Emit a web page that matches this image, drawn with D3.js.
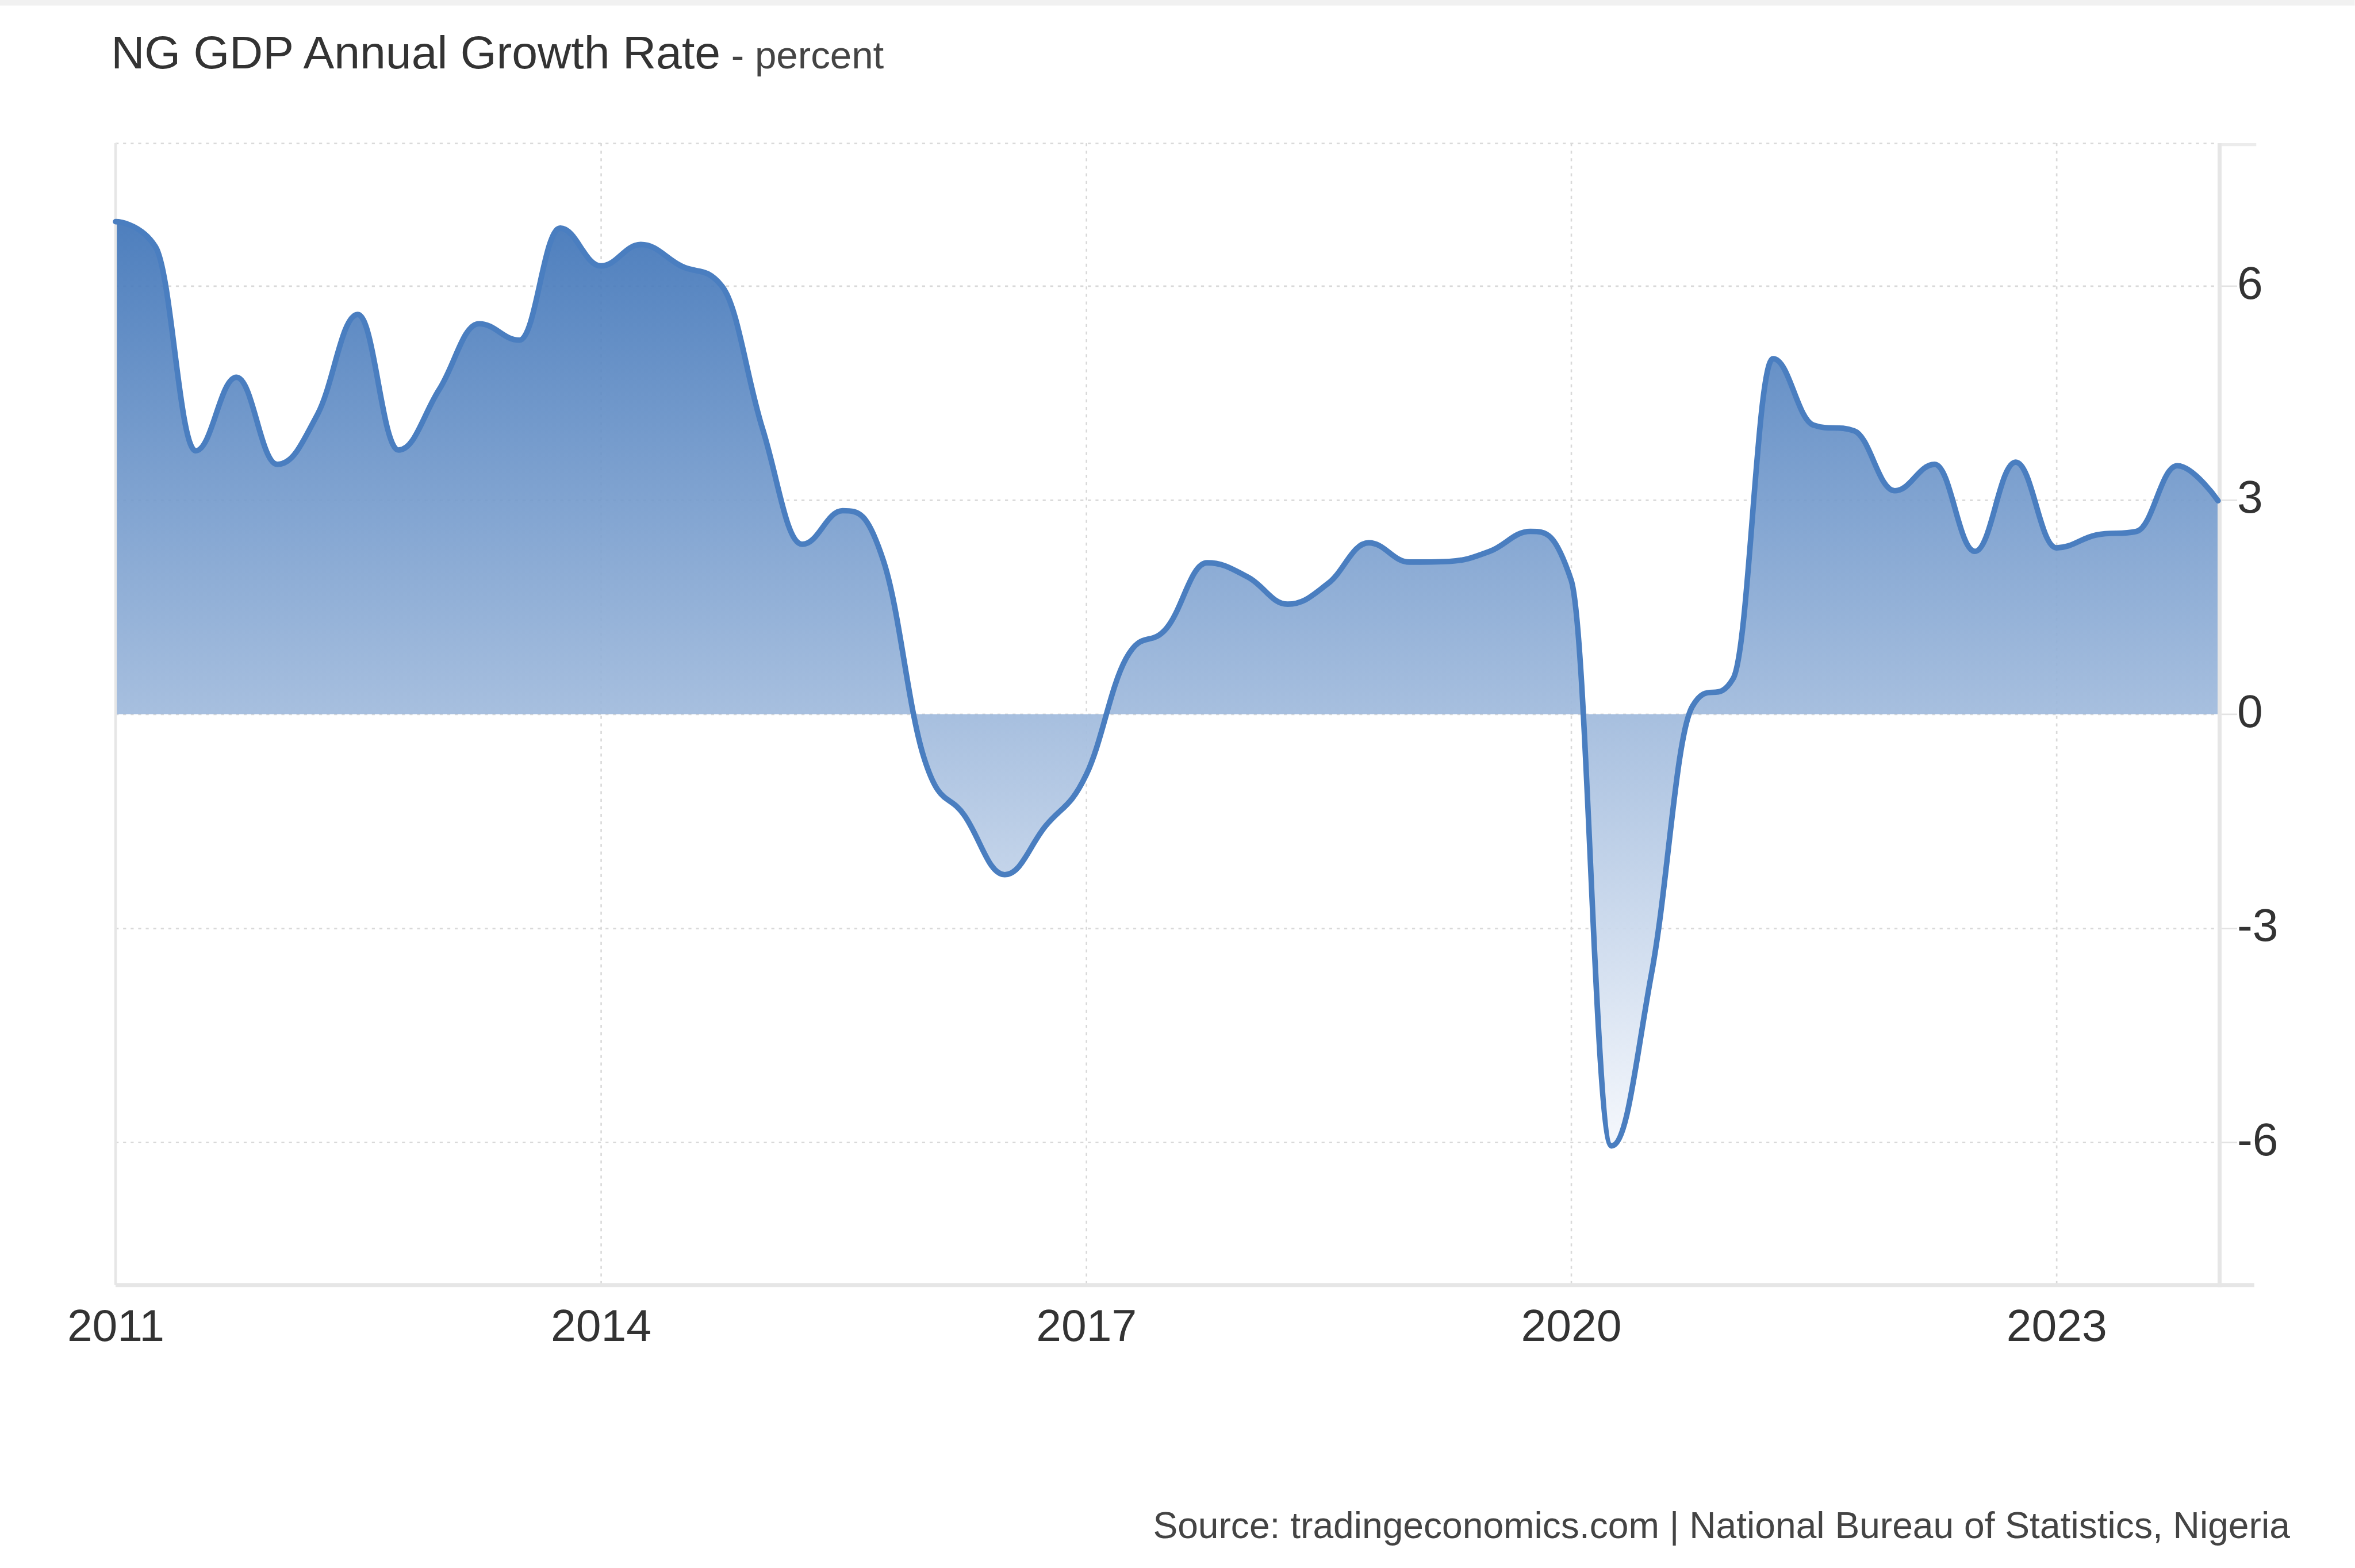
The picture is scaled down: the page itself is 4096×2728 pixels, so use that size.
<!DOCTYPE html>
<html>
<head>
<meta charset="utf-8">
<script src="https://cdn.jsdelivr.net/npm/d3@7"></script>
<style>
  html, body { margin: 0; padding: 0; background: #ffffff; }
  svg { display: block; }
  text { font-family: "Liberation Sans", Arial, Helvetica, sans-serif; }
</style>
</head>
<body>
<svg id="chart" width="4096" height="2728"></svg>
<script>
// Quarterly observations (start of each quarter)
const quarterStarts = [
  "2011-01", "2011-04", "2011-07", "2011-10",
  "2012-01", "2012-04", "2012-07", "2012-10",
  "2013-01", "2013-04", "2013-07", "2013-10",
  "2014-01", "2014-04", "2014-07", "2014-10",
  "2015-01", "2015-04", "2015-07", "2015-10",
  "2016-01", "2016-04", "2016-07", "2016-10",
  "2017-01", "2017-04", "2017-07", "2017-10",
  "2018-01", "2018-04", "2018-07", "2018-10",
  "2019-01", "2019-04", "2019-07", "2019-10",
  "2020-01", "2020-04", "2020-07", "2020-10",
  "2021-01", "2021-04", "2021-07", "2021-10",
  "2022-01", "2022-04", "2022-07", "2022-10",
  "2023-01", "2023-04", "2023-07", "2023-10",
  "2024-01"
];

// GDP annual growth rate, percent
const growth = [
  6.90, 6.55, 3.69, 4.72,
  3.50, 4.20, 5.60, 3.70,
  4.55, 5.47, 5.24, 6.81,
  6.28, 6.58, 6.28, 6.00,
  4.00, 2.38, 2.85, 2.15,
  -0.62, -1.42, -2.25, -1.57,
  -0.85, 0.78, 1.20, 2.12,
  1.92, 1.54, 1.83, 2.40,
  2.13, 2.14, 2.28, 2.56,
  1.88, -6.05, -3.62, 0.11,
  0.50, 4.98, 4.05, 3.97,
  3.13, 3.50, 2.28, 3.53,
  2.33, 2.51, 2.56, 3.48,
  2.99
];

const yTickValues = [-6, -3, 0, 3, 6];
const yearTickLabels = ["2011", "2014", "2017", "2020", "2023"];
const titleMain = "NG GDP Annual Growth Rate";
const titleUnit = " - percent";
const sourceText = "Source: tradingeconomics.com | National Bureau of Statistics, Nigeria";

// ---- layout (drawn in a 4686 x 3121 design space, scaled to the window) ----
const SCALE = 0.874;
const W = 4686, H = 3121;
const plot = { left: 230, right: 4414, top: 285, bottom: 2558 };
const gridColor = "#d9d9d9";
const frameColor = "#e6e6e6";
const lineColor = "#4a7ec0";

// Smooth spline: tangent at each point parallel to the neighbours' chord,
// handles clamped so the curve never creates false extremes.
function SmoothSpline(context) { this._context = context; }
SmoothSpline.prototype = {
  areaStart() { this._line = 0; },
  areaEnd() { this._line = NaN; },
  lineStart() { this._xs = []; this._ys = []; },
  point(px, py) { this._xs.push(+px); this._ys.push(+py); },
  lineEnd() {
    const xs = this._xs, ys = this._ys, n = xs.length, c = this._context;
    const smoothing = 1.5, denom = smoothing + 1;
    if (n) {
      if (this._line) c.lineTo(xs[0], ys[0]); else c.moveTo(xs[0], ys[0]);
      const lx = xs.slice(), ly = ys.slice(), rx = xs.slice(), ry = ys.slice();
      for (let i = 1; i < n - 1; i++) {
        const X = xs[i], Y = ys[i];
        const lastX = xs[i - 1], lastY = ys[i - 1], nextX = xs[i + 1], nextY = ys[i + 1];
        let lcx = (smoothing * X + lastX) / denom, lcy = (smoothing * Y + lastY) / denom;
        let rcx = (smoothing * X + nextX) / denom, rcy = (smoothing * Y + nextY) / denom;
        let corr = 0;
        if (rcx !== lcx) corr = ((rcy - lcy) * (rcx - X)) / (rcx - lcx) + Y - rcy;
        lcy += corr; rcy += corr;
        if (lcy > lastY && lcy > Y) { lcy = Math.max(lastY, Y); rcy = 2 * Y - lcy; }
        else if (lcy < lastY && lcy < Y) { lcy = Math.min(lastY, Y); rcy = 2 * Y - lcy; }
        if (rcy > nextY && rcy > Y) { rcy = Math.max(nextY, Y); lcy = 2 * Y - rcy; }
        else if (rcy < nextY && rcy < Y) { rcy = Math.min(nextY, Y); lcy = 2 * Y - rcy; }
        lx[i] = lcx; ly[i] = lcy; rx[i] = rcx; ry[i] = rcy;
      }
      for (let i = 1; i < n; i++) {
        c.bezierCurveTo(rx[i - 1], ry[i - 1], lx[i], ly[i], xs[i], ys[i]);
      }
    }
    if (this._line || (this._line !== 0 && n === 1)) c.closePath();
    this._line = 1 - this._line;
  }
};
const curveSmooth = context => new SmoothSpline(context);

const parseQ = d3.utcParse("%Y-%m");
const parseY = d3.utcParse("%Y");
const series = quarterStarts.map((q, i) => ({ date: parseQ(q), value: growth[i] }));

const x = d3.scaleUtc()
  .domain([parseY("2011"), parseY("2024")])
  .range([plot.left, plot.right]);
const y = d3.scaleLinear()
  .domain([-8, 8])
  .range([plot.bottom, plot.top]);

const svg = d3.select("#chart");
const root = svg.append("g").attr("transform", `scale(${SCALE})`);

// page background and thin header strip
root.append("rect").attr("x", 0).attr("y", 0).attr("width", W).attr("height", H).attr("fill", "#ffffff");
root.append("rect").attr("x", 0).attr("y", 0).attr("width", W).attr("height", 11).attr("fill", "#f1f1f1");

// ---- gridlines ----
const grid = root.append("g").attr("class", "grid");
grid.append("g")
  .attr("transform", `translate(${plot.left},0)`)
  .call(d3.axisLeft(y).tickValues(yTickValues.concat([8])).tickSize(-(plot.right - plot.left)).tickFormat(""))
  .call(g => g.select(".domain").remove())
  .call(g => g.selectAll(".tick line")
    .attr("stroke", gridColor).attr("stroke-width", 3).attr("stroke-dasharray", "6,9"));

grid.append("g")
  .attr("transform", `translate(0,${plot.top})`)
  .call(d3.axisTop(x).tickValues(yearTickLabels.slice(1).map(parseY)).tickSize(-(plot.bottom - plot.top)).tickFormat(""))
  .call(g => g.select(".domain").remove())
  .call(g => g.selectAll(".tick line")
    .attr("stroke", gridColor).attr("stroke-width", 3).attr("stroke-dasharray", "6,9"));

// ---- area with vertical gradient ----
const defs = svg.append("defs");
const grad = defs.append("linearGradient")
  .attr("id", "areaFill").attr("x1", 0).attr("y1", 0).attr("x2", 0).attr("y2", 1);
grad.append("stop").attr("offset", "0%").attr("stop-color", "#3f74b8");
grad.append("stop").attr("offset", "100%").attr("stop-color", "#f4f7fc");

const area = d3.area()
  .x(d => x(d.date))
  .y0(y(0))
  .y1(d => y(d.value))
  .curve(curveSmooth);
const line = d3.line()
  .x(d => x(d.date))
  .y(d => y(d.value))
  .curve(curveSmooth);

root.append("path")
  .datum(series)
  .attr("d", area)
  .attr("fill", "url(#areaFill)")
  .attr("fill-opacity", 0.92);

// ---- frame ----
root.append("line")
  .attr("x1", plot.left).attr("x2", plot.left)
  .attr("y1", plot.top).attr("y2", plot.bottom)
  .attr("stroke", frameColor).attr("stroke-width", 5);

root.append("line")
  .attr("x1", plot.right + 3).attr("x2", plot.right + 3)
  .attr("y1", plot.top).attr("y2", plot.bottom + 4)
  .attr("stroke", frameColor).attr("stroke-width", 8);

root.append("line")
  .attr("x1", plot.left).attr("x2", 4486)
  .attr("y1", plot.bottom).attr("y2", plot.bottom)
  .attr("stroke", frameColor).attr("stroke-width", 8);

root.append("line")
  .attr("x1", plot.right + 7).attr("x2", 4490)
  .attr("y1", plot.top + 3).attr("y2", plot.top + 3)
  .attr("stroke", "#ececec").attr("stroke-width", 6);

// ---- series line ----
root.append("path")
  .datum(series)
  .attr("d", line)
  .attr("fill", "none")
  .attr("stroke", lineColor)
  .attr("stroke-width", 11)
  .attr("stroke-linejoin", "round")
  .attr("stroke-linecap", "round");

// ---- right value axis ----
root.append("g")
  .attr("transform", `translate(${plot.right + 7},0)`)
  .call(d3.axisRight(y).tickValues(yTickValues).tickSize(31).tickPadding(0).tickFormat(d => String(d)))
  .call(g => g.select(".domain").remove())
  .call(g => g.selectAll(".tick line").attr("stroke", "#e3e3e3").attr("stroke-width", 3))
  .call(g => g.selectAll(".tick text")
    .attr("x", 31)
    .attr("dy", "0.27em")
    .attr("fill", "#333333")
    .attr("font-size", 92)
    .attr("font-family", "'Liberation Sans', Arial, sans-serif"));

// ---- bottom time axis ----
root.append("g")
  .attr("transform", `translate(0,${plot.bottom})`)
  .call(d3.axisBottom(x).tickValues(yearTickLabels.map(parseY)).tickSize(0).tickFormat(d3.utcFormat("%Y")))
  .call(g => g.select(".domain").remove())
  .call(g => g.selectAll(".tick text")
    .attr("y", 111)
    .attr("dy", 0)
    .attr("fill", "#333333")
    .attr("font-size", 90)
    .attr("font-family", "'Liberation Sans', Arial, sans-serif"));

// ---- title ----
const title = root.append("text")
  .attr("x", 221)
  .attr("y", 136)
  .attr("fill", "#333333")
  .attr("font-size", 92.2)
  .text(titleMain);
title.append("tspan")
  .attr("font-size", 77)
  .attr("fill", "#444444")
  .text(titleUnit);

// ---- source note ----
root.append("text")
  .attr("x", 4557)
  .attr("y", 3062)
  .attr("text-anchor", "end")
  .attr("fill", "#444444")
  .attr("font-size", 73.4)
  .text(sourceText);
</script>
</body>
</html>
